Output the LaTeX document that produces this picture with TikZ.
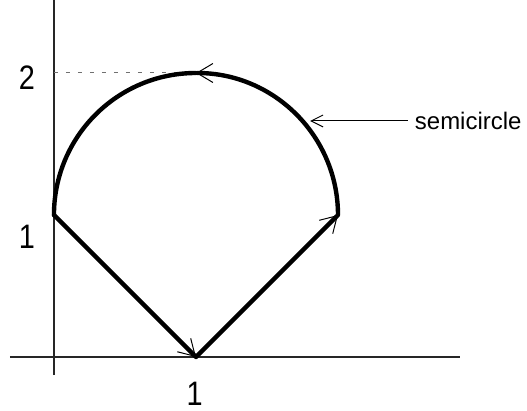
\documentclass[tikz,border=0pt]{standalone}
\usepackage{fontspec}
\setmainfont{Liberation Sans}
\newfontfamily\narrowsans[FakeStretch=0.85]{Liberation Sans}
\usepackage{xcolor}
\usepackage{tikz}
\usetikzlibrary{positioning,arrows.meta}
\definecolor{ink}{HTML}{000000}
\definecolor{guide}{HTML}{707070}
\tikzset{
    axis/.style={line width=0.6pt, color=ink!85},
    curve/.style={line width=2.2pt, color=ink, line cap=round, line join=round},
    tip/.style={-{Straight Barb[length=8pt, width=9.5pt, line width=0.5pt]}},
    pointer/.style={-{Straight Barb[length=6pt, width=6pt, line width=0.5pt]}, line width=0.5pt, color=ink},
    guideline/.style={dash pattern=on 2pt off 4pt, line width=0.5pt, color=guide},
    tick/.style={font=\narrowsans\fontsize{17}{20}\selectfont, inner sep=0pt},
    tag/.style={font=\fontsize{12}{14}\selectfont, inner sep=3.5pt, anchor=west}
}
\begin{document}
\begin{tikzpicture}[x=2.5cm, y=2.5cm]

\useasboundingbox (-0.380,-0.380) rectangle (3.331,2.514);

\coordinate (O) at (0,0);
\coordinate (A) at (0,1);
\coordinate (B) at (1,0);
\coordinate (C) at (2,1);
\coordinate (T) at (1,2);
\coordinate (xl) at (-0.31,0);
\coordinate (xr) at (2.86,0);
\coordinate (yb) at (0,-0.127);
\coordinate (yt) at (0,2.514);
\coordinate (Y2) at (0,2);
\coordinate (S) at (1.803,1.662);

\draw[axis] (xl) -- (xr);
\draw[axis] (yb) -- (yt);
\draw[guideline] (Y2) -- (T);

\node[tick] (two) at (-0.19,1.965) {2};
\node[tick] (oney) at (-0.19,0.845) {1};
\node[tick] (onex) at (0.99,-0.262) {1};

\draw[curve, tip] (A) -- (B);
\draw[curve, tip] (B) -- (C);
\draw[curve, tip] (C) arc[start angle=0, end angle=90, radius=1];
\draw[curve] (T) arc[start angle=90, end angle=180, radius=1];

\node[tag] (lbl) at (2.49,1.662) {semicircle};
\draw[pointer] (lbl.west) -- (S);

\end{tikzpicture}
\end{document}
